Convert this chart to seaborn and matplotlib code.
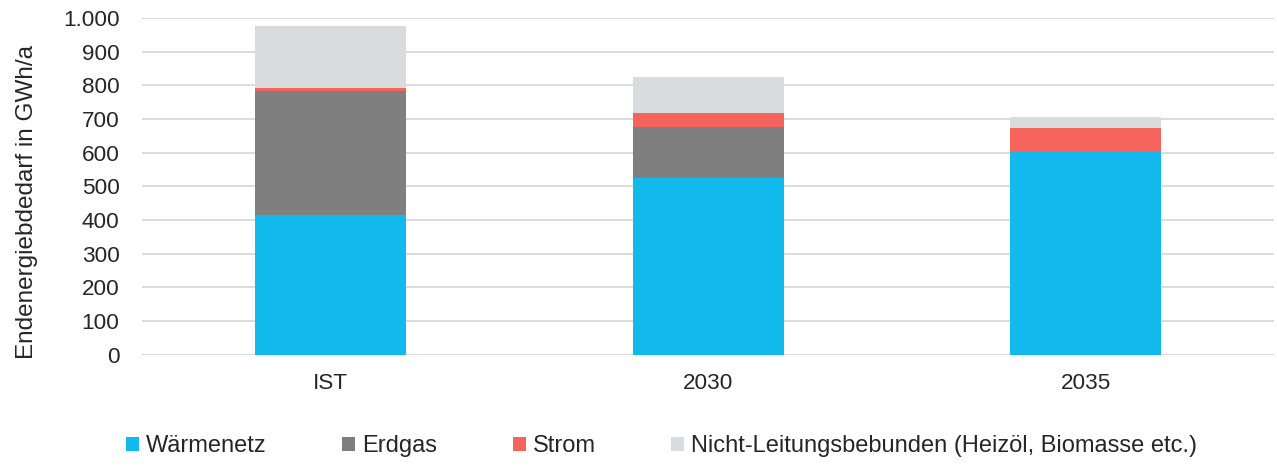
import numpy as np
import pandas as pd
import seaborn as sns
import matplotlib.pyplot as plt
from matplotlib.patches import Patch

categories = ["IST", "2030", "2035"]
waermenetz = [415, 526, 603]
erdgas = [370, 151, 0]
strom = [6, 42, 71]
nicht_leitung = [186, 105, 31]

series = ["Wärmenetz", "Erdgas", "Strom", "Nicht-Leitungsbebunden (Heizöl, Biomasse etc.)"]
colors = ["#12B9EC", "#7F7F7F", "#F5645C", "#D9DCDF"]

df = pd.DataFrame({"kategorie": categories,
                   series[0]: waermenetz, series[1]: erdgas,
                   series[2]: strom, series[3]: nicht_leitung})
# cumulative sums for the stacking trick
cum = df[series].cumsum(axis=1)

sns.set_style("white")
plt.rcParams["font.family"] = ["Liberation Sans", "DejaVu Sans"]

fig = plt.figure(figsize=(12.77, 4.65), dpi=100)
ax = fig.add_axes([0.111, 0.237, 0.887, 0.724])

for name, col in reversed(list(zip(series, colors))):
    sns.barplot(x=df["kategorie"], y=cum[name], color=col, width=0.4,
                saturation=1, ax=ax, zorder=3, linewidth=0)

ax.set_ylim(0, 1000)
ax.set_yticks(np.arange(0, 1001, 100))
ax.set_yticklabels(["0", "100", "200", "300", "400", "500", "600", "700", "800", "900", "1.000"])
ax.grid(axis="y", color="#D9D9D9", linewidth=1.3, zorder=0)
ax.set_axisbelow(True)
for s in ax.spines.values():
    s.set_visible(False)
ax.tick_params(axis="y", labelsize=16.2, pad=16, length=0)
ax.tick_params(axis="x", labelsize=16.2, pad=13, length=0)
ax.set_xlabel("")
ax.set_ylabel("Endenergiebdedarf in GWh/a", fontsize=17.5)
ax.yaxis.set_label_coords(-0.092, 0.455)

handles = [Patch(facecolor=c, edgecolor="none") for c in colors]
fig.legend(handles, series, loc="center", bbox_to_anchor=(0.518, 0.04), ncol=4,
           frameon=False, fontsize=17, handlelength=0.55, handleheight=0.5,
           handletextpad=0.3, columnspacing=3.2)

plt.savefig("out.png", dpi=100)
